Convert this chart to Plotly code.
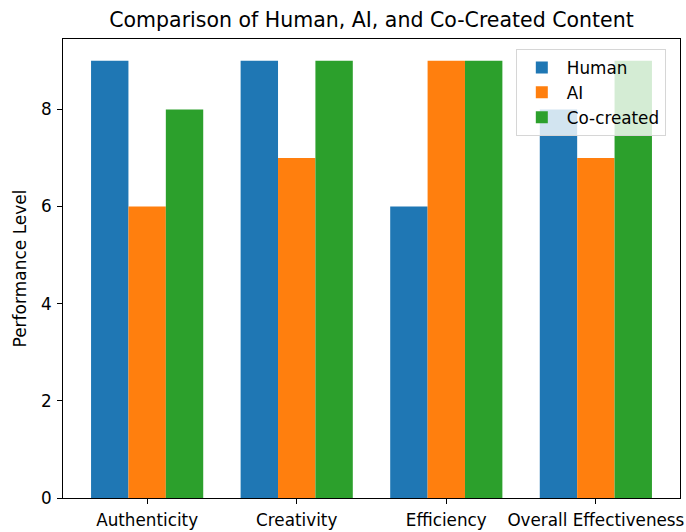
import plotly.graph_objects as go

categories = ["Authenticity", "Creativity", "Efficiency", "Overall Effectiveness"]
human = [9, 9, 6, 8]
ai = [6, 7, 9, 7]
co_created = [8, 9, 9, 9]
series_names = ["Human", "AI", "Co-created"]
colors = ["#1f77b4", "#ff7f0e", "#2ca02c"]

FONT = "DejaVu Sans"

fig = go.Figure()
for name, vals, c in zip(series_names, [human, ai, co_created], colors):
    fig.add_trace(go.Bar(x=categories, y=vals, name=name, marker=dict(color=c, line=dict(width=0))))

axis_common = dict(showline=True, linecolor="black", linewidth=1, mirror=True,
                   ticks="outside", ticklen=5, tickcolor="black", showgrid=False,
                   zeroline=False, tickfont=dict(family=FONT, size=16.8, color="black"))

fig.update_layout(
    width=686, height=532,
    margin=dict(l=63, r=2, t=39, b=33),
    paper_bgcolor="white", plot_bgcolor="white",
    barmode="group", bargap=0.25, bargroupgap=0,
    title=dict(text="Comparison of Human, AI, and Co-Created Content", xref="paper", x=0.5,
               xanchor="center", yref="container", y=0.962, yanchor="middle",
               font=dict(family=FONT, size=20.5, color="black")),
    xaxis=dict(range=[-0.5625, 3.5625], ticklabelstandoff=2, **axis_common),
    yaxis=dict(range=[0, 9.45], dtick=2, ticklabelstandoff=2,
               title=dict(text="Performance Level", standoff=10,
                          font=dict(family=FONT, size=17, color="black")), **axis_common),
    legend=dict(x=0.977, y=0.978, xanchor="right", yanchor="top",
                bgcolor="rgba(255,255,255,0.8)", bordercolor="#d6d6d6", borderwidth=1,
                font=dict(family=FONT, size=16.8, color="black"), tracegroupgap=4,
                itemwidth=40),
)
fig.write_html("out.html", config={"displayModeBar": False},
               post_script="document.body.style.margin='0';document.body.style.overflow='hidden';")
